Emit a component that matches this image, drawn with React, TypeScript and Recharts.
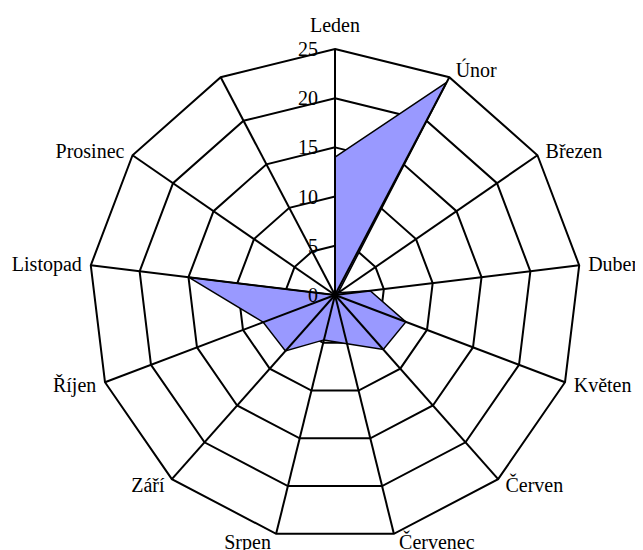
import { RadarChart, Radar, PolarGrid, PolarAngleAxis, PolarRadiusAxis } from "recharts"

const months = [
  "Leden", "Únor", "Březen", "Duben", "Květen", "Červen", "Červenec",
  "Srpen", "Září", "Říjen", "Listopad", "Prosinec", "",
]
const values = [14, 24.4, 0.4, 3.6, 7.7, 7.4, 5.1, 4.7, 7.6, 7.8, 15, 0, 0]
const radiusTicks = [0, 5, 10, 15, 20, 25]

const data = months.map((m, i) => ({ month: m, value: values[i] }))

const W = 635
const H = 542
const CX = 327
const CY = 287
const R = 246
const FONT = "'Liberation Serif', 'Times New Roman', serif"

function AngleTick(props: any) {
  const { x, y, payload } = props
  const dx = x - CX
  const dy = y - CY
  const len = Math.sqrt(dx * dx + dy * dy) || 1
  const ux = dx / len
  const uy = dy / len
  const vx = CX + ux * R
  const vy = CY + uy * R
  let anchor = "middle"
  let tx = vx
  let ty = vy
  if (ux > 0.01) {
    anchor = "start"
    tx = vx + 4 + 5 * Math.abs(ux)
    ty = vy + 8 * uy
  } else if (ux < -0.01) {
    anchor = "end"
    tx = vx - 4 - 5 * Math.abs(ux)
    ty = vy + 8 * uy
  } else {
    ty = vy - 24
  }
  return (
    <text x={tx} y={ty} dy="0.35em" textAnchor={anchor} fontFamily={FONT} fontSize={20} fill="#000">
      {payload.value}
    </text>
  )
}

function RadiusTick(props: any) {
  const { x, y, payload } = props
  return (
    <text x={x - 17} y={y} dy="0.35em" textAnchor="end" fontFamily={FONT} fontSize={20} fill="#000">
      {payload.value}
    </text>
  )
}

export default function App() {
  return (
    <RadarChart width={W} height={H} data={data} cx={CX} cy={CY} outerRadius={R} margin={{ top: 0, right: 0, bottom: 0, left: 0 }}>
      {/* rings under the fill */}
      <PolarGrid gridType="polygon" radialLines={false} stroke="#000" strokeWidth={2} strokeOpacity={1} />
      <Radar
        dataKey="value"
        fill="#9999FF"
        fillOpacity={1}
        stroke="#000"
        strokeWidth={1.5}
        isAnimationActive={false}
      />
      {/* spokes drawn over the fill */}
      <PolarGrid
        gridType="polygon"
        polarRadius={[0]}
        radialLines
        stroke="#000"
        strokeWidth={2}
        strokeOpacity={1}
        {...({ zIndex: 600 } as any)}
      />
      <PolarAngleAxis dataKey="month" tick={AngleTick} tickLine={false} axisLine={false} />
      <PolarRadiusAxis
        angle={90}
        domain={[0, 25]}
        ticks={radiusTicks}
        tickCount={6}
        tick={RadiusTick}
        axisLine={false}
        tickLine={false}
      />
    </RadarChart>
  )
}
